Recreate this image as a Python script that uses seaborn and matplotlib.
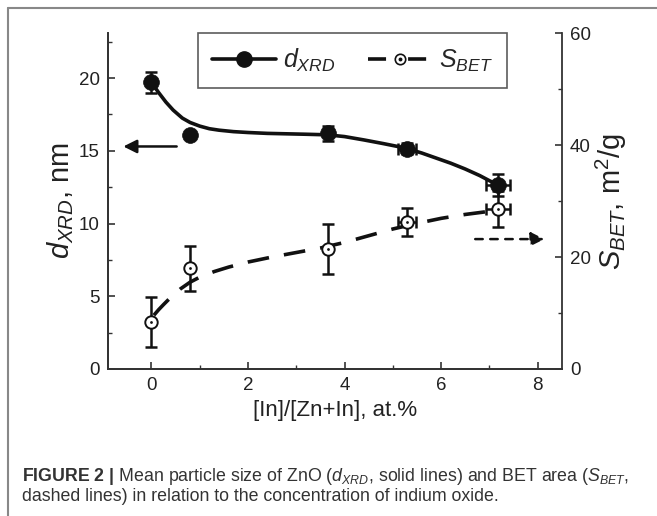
import matplotlib
matplotlib.use('Agg')
import matplotlib.pyplot as plt
import seaborn as sns
import pandas as pd
from matplotlib.lines import Line2D

# measured points (x = [In]/[Zn+In], at.%)
x_pts = [0.0, 0.8, 3.65, 5.3, 7.18]
x_err = [0.0, 0.0, 0.0, 0.19, 0.25]

# d_XRD, nm (left axis)
d_xrd = [19.7, 16.1, 16.2, 15.15, 12.65]
d_err = [0.75, 0.0, 0.5, 0.4, 0.75]

# S_BET, m2/g (right axis)
s_bet = [8.4, 18.0, 21.4, 26.3, 28.5]
s_err = [4.5, 4.0, 4.5, 2.5, 3.2]

# guide curves
fit_d_x = [0.0, 0.15, 0.3, 0.45, 0.64, 0.8, 1.0, 1.2, 1.4, 1.7, 2.0, 2.4, 2.8, 3.2, 3.65,
           4.0, 4.4, 4.8, 5.1, 5.3, 5.6, 5.9, 6.2, 6.5, 6.8, 7.0, 7.18]
fit_d_y = [19.7, 19.0, 18.35, 17.8, 17.25, 16.95, 16.7, 16.52, 16.42, 16.32, 16.26, 16.2,
           16.17, 16.14, 16.1, 15.98, 15.75, 15.5, 15.3, 15.15, 14.85, 14.5, 14.15, 13.75,
           13.3, 12.95, 12.65]
fit_s_x = [0.05, 0.15, 0.25, 0.4, 0.6, 0.8, 1.0, 1.3, 1.6, 2.0, 2.5, 3.0, 3.5, 4.0, 4.5,
           5.0, 5.5, 6.0, 6.5, 6.95]
fit_s_y = [9.6, 10.6, 11.5, 12.8, 14.3, 15.5, 16.4, 17.4, 18.2, 19.1, 20.0, 20.8, 21.6,
           22.6, 23.8, 25.0, 26.0, 26.9, 27.6, 28.1]

sns.set_theme(style="ticks")
plt.rcParams['font.family'] = ['Liberation Sans', 'DejaVu Sans']
plt.rcParams['mathtext.fontset'] = 'custom'
plt.rcParams['mathtext.rm'] = 'Liberation Sans'
plt.rcParams['mathtext.it'] = 'Liberation Sans:italic'
plt.rcParams['mathtext.bf'] = 'Liberation Sans:bold'

ink = '#111111'
axc = '#333333'
dash = (0, (6.0, 4.2))

fig = plt.figure(figsize=(6.57, 5.16), dpi=100)
ax = fig.add_axes([0.1644, 0.2849, 0.6906, 0.6511])
ax2 = ax.twinx()

# frame around figure panel (top and left)
fig.add_artist(Line2D([0.012, 0.012], [0.0, 0.985], color='#888888', lw=1.5, transform=fig.transFigure))
fig.add_artist(Line2D([0.012, 1.0], [0.985, 0.985], color='#888888', lw=1.5, transform=fig.transFigure))

df_fit_d = pd.DataFrame({'x': fit_d_x, 'y': fit_d_y})
df_fit_s = pd.DataFrame({'x': fit_s_x, 'y': fit_s_y})
df_pts = pd.DataFrame({'x': x_pts, 'd': d_xrd, 's': s_bet})

sns.lineplot(data=df_fit_d, x='x', y='y', ax=ax, color=ink, lw=2.6, sort=False, zorder=2)
ax.errorbar(x_pts, d_xrd, yerr=d_err, xerr=x_err, fmt='none', ecolor=ink,
            elinewidth=1.8, capsize=4, capthick=1.8, zorder=3)
sns.scatterplot(data=df_pts, x='x', y='d', ax=ax, color=ink, s=130, edgecolor=ink,
                linewidth=0.5, zorder=4)

sns.lineplot(data=df_fit_s, x='x', y='y', ax=ax2, color=ink, lw=2.6, sort=False, zorder=2)
ax2.lines[-1].set_linestyle(dash)
ax2.errorbar(x_pts, s_bet, yerr=s_err, xerr=x_err, fmt='none', ecolor=ink,
             elinewidth=1.8, capsize=4, capthick=1.8, zorder=3)
sns.scatterplot(data=df_pts, x='x', y='s', ax=ax2, color='white', s=80, edgecolor=ink,
                linewidth=1.4, zorder=4)
sns.scatterplot(data=df_pts, x='x', y='s', ax=ax2, color=ink, s=4, edgecolor=ink,
                linewidth=0, zorder=5)

# direction arrows
ax.annotate('', xy=(-0.64, 15.3), xytext=(0.58, 15.3),
            arrowprops=dict(arrowstyle='-|>', color=ink, lw=1.8, mutation_scale=20))
ax2.annotate('', xy=(8.2, 23.2), xytext=(6.65, 23.2),
             arrowprops=dict(arrowstyle='-|>', color=ink, lw=1.8, mutation_scale=20,
                             linestyle=(0, (3, 3))))

ax.set_xlim(-0.9, 8.5)
ax.set_ylim(0, 23.1)
ax2.set_ylim(0, 60)
ax.set_xticks([0, 2, 4, 6, 8])
ax.set_xticks([1, 3, 5, 7], minor=True)
ax.set_yticks([0, 5, 10, 15, 20])
ax.set_yticks([2.5, 7.5, 12.5, 17.5, 22.5], minor=True)
ax2.set_yticks([0, 20, 40, 60])
ax2.set_yticks([10, 30, 50], minor=True)

for a in (ax, ax2):
    a.tick_params(which='major', direction='in', length=5, width=1.2, color=axc,
                  labelsize=13.5, labelcolor='#222222', pad=6)
    a.tick_params(which='minor', direction='in', length=3, width=1.0, color=axc)
    for sp in a.spines.values():
        sp.set_color(axc)
        sp.set_linewidth(1.3)
    a.spines['top'].set_visible(False)
ax.spines['right'].set_visible(False)

ax.set_xlabel('[In]/[Zn+In], at.%', fontsize=16, color='#222222', labelpad=4)
ax.set_ylabel(r'$d_{XRD}$, nm', fontsize=21, color='#222222', labelpad=2)
ax2.set_ylabel(r'$S_{BET}$, m$^2$/g', fontsize=21, color='#222222', labelpad=2)

h_d = Line2D([], [], color=ink, lw=2.6, marker='o', markersize=11, markerfacecolor=ink)
h_s_line = Line2D([], [], color=ink, lw=2.6, ls=(0, (5.0, 6.1)), marker='o', markersize=7.5,
                  markerfacecolor='white', markeredgecolor=ink, markeredgewidth=1.2)
h_s_dot = Line2D([], [], ls='none', marker='o', markersize=1.8, color=ink)
leg = ax.legend([h_d, (h_s_line, h_s_dot)], [r'$d_{XRD}$', r'$S_{BET}$'], loc='upper left',
                bbox_to_anchor=(0.198, 1.0), borderaxespad=0, ncol=2, fontsize=18,
                frameon=True, fancybox=False, edgecolor=axc, handlelength=2.56,
                columnspacing=1.3, handletextpad=0.3, borderpad=0.55)
leg.get_frame().set_linewidth(1.2)

fig.text(0.034, 0.068, r'$\mathbf{FIGURE\ 2\ |}$ Mean particle size of ZnO ($d_{XRD}$, solid lines) and BET area ($S_{BET}$,',
         fontsize=12.8, color='#333333')
fig.text(0.034, 0.030, 'dashed lines) in relation to the concentration of indium oxide.',
         fontsize=12.8, color='#333333')

fig.savefig('out.png', dpi=100)
